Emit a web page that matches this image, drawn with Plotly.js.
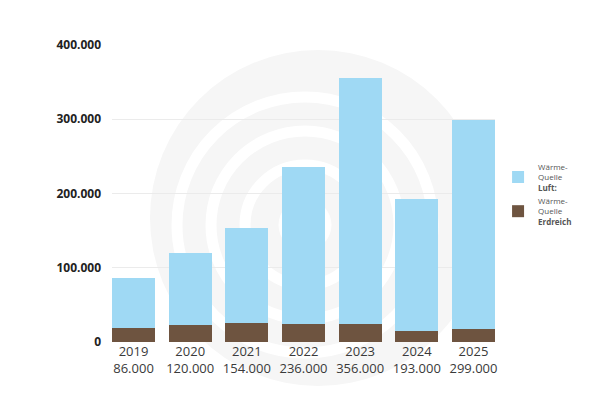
<!DOCTYPE html>
<html>
<head>
<meta charset="utf-8">
<script src="https://cdn.plot.ly/plotly-3.0.1.min.js"></script>
<style>html,body{margin:0;padding:0;background:#fff;}#chart{width:600px;height:410px;}</style>
</head>
<body>
<div id="chart"></div>
<script>
const years = ["2019", "2020", "2021", "2022", "2023", "2024", "2025"];
const totals = ["86.000", "120.000", "154.000", "236.000", "356.000", "193.000", "299.000"];
const erdreich = [19000, 23000, 25000, 24000, 24000, 15000, 17000];
const luft = [67000, 97000, 129000, 212000, 332000, 178000, 282000];
const yTickVals = [0, 100000, 200000, 300000, 400000];
const yTickText = ["0", "100.000", "200.000", "300.000", "400.000"];

const xLabels = years.map((y, i) => y + "<br>" + totals[i]);

// watermark circles (pixel-based, converted to paper coords)
const L = 112, R = 495, T = 45, B = 342;
const px = x => (x - L) / (R - L);
const py = y => (B - y) / (B - T);
function circ(cx, cy, r, fill, line, lw) {
  return {type: "circle", xref: "paper", yref: "paper", layer: "below",
    x0: px(cx - r), x1: px(cx + r), y0: py(cy + r), y1: py(cy - r),
    fillcolor: fill, line: {color: line, width: lw}};
}
const shapes = [
  circ(318, 218, 168, "#f6f6f6", "rgba(0,0,0,0)", 0),
  circ(305, 225, 128, "rgba(0,0,0,0)", "#ffffff", 11),
  circ(305, 225, 94, "rgba(0,0,0,0)", "#ffffff", 11),
  circ(305, 225, 60, "rgba(0,0,0,0)", "#ffffff", 11),
  circ(305, 225, 26, "#ffffff", "#ffffff", 1)
];

const traces = [
  {type: "bar", x: xLabels, y: erdreich, name: "Wärme-<br>Quelle<br><b>Erdreich</b>",
   marker: {color: "#6e5440"}, hoverinfo: "y"},
  {type: "bar", x: xLabels, y: luft, name: "Wärme-<br>Quelle<br><b>Luft:</b>",
   marker: {color: "#9fd9f4"}, hoverinfo: "y"}
];

const layout = {
  width: 600, height: 410,
  margin: {l: L, r: 600 - R, t: T, b: 410 - B},
  paper_bgcolor: "#ffffff", plot_bgcolor: "rgba(0,0,0,0)",
  barmode: "stack", bargap: 0.236,
  font: {family: "Open Sans, sans-serif", color: "#333"},
  xaxis: {range: [-0.38, 6.38], showgrid: false, zeroline: false, showline: false,
          ticks: "", tickfont: {size: 13, color: "#3a3a3a"}, fixedrange: true},
  yaxis: {range: [0, 400000], tickvals: yTickVals, ticktext: yTickText,
          showgrid: true, gridcolor: "#ebebeb", gridwidth: 1, zeroline: false,
          ticks: "", ticklabelstandoff: 10,
          tickfont: {size: 12, color: "#222", family: "Open Sans, sans-serif", weight: "bold"}},
  legend: {x: 1.008, y: 0.63, xanchor: "left", yanchor: "top", traceorder: "reversed",
           font: {size: 8, color: "#555"}, tracegroupgap: 4, itemwidth: 30},
  shapes: shapes,
  showlegend: true
};

Plotly.newPlot("chart", traces, layout, {displayModeBar: false, staticPlot: true});
</script>
</body>
</html>
